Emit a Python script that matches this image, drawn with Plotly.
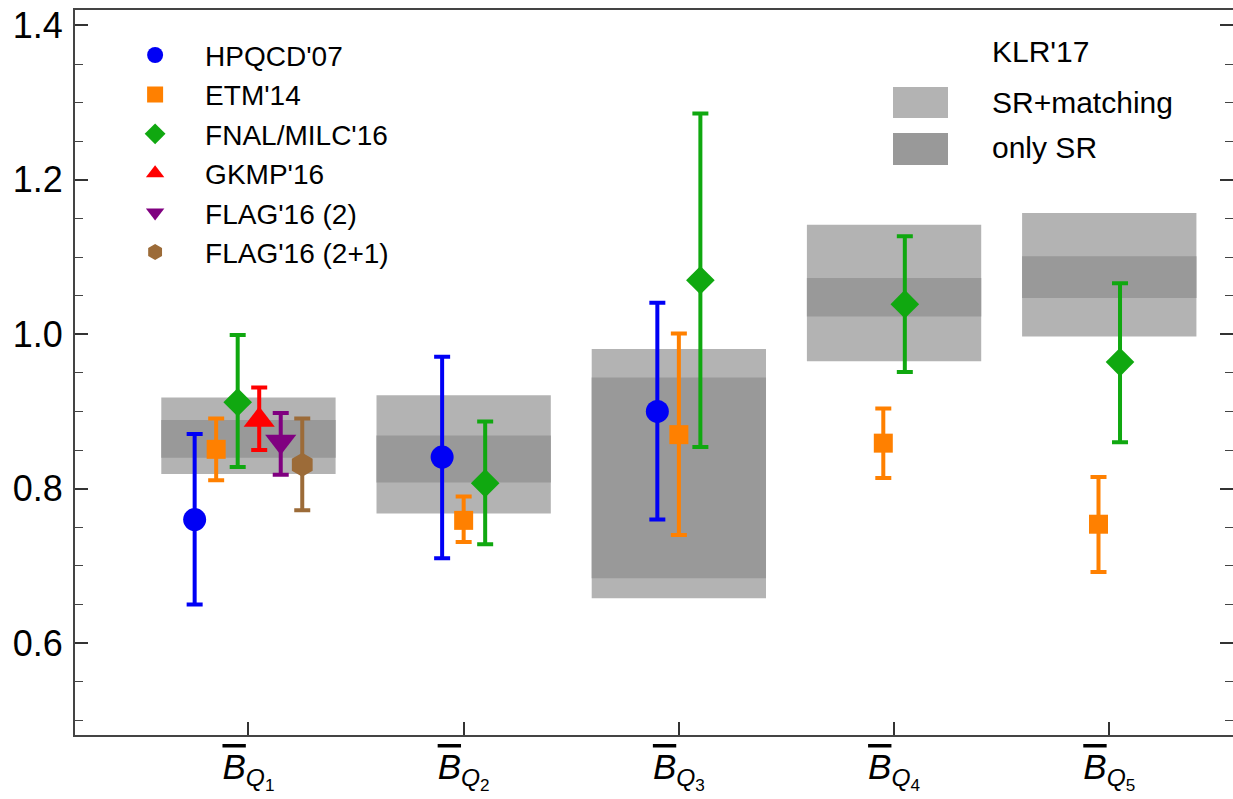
import plotly.graph_objects as go

# ---------------- data ----------------
categories = ["Q1", "Q2", "Q3", "Q4", "Q5"]
cat_sub = ["1", "2", "3", "4", "5"]

series_names = ["HPQCD'07", "ETM'14", "FNAL/MILC'16", "GKMP'16", "FLAG'16 (2)", "FLAG'16 (2+1)"]

hpqcd_val = [0.760, 0.841, 0.900, None, None]
hpqcd_up = [0.111, 0.130, 0.141, None, None]
hpqcd_dn = [0.110, 0.131, 0.140, None, None]

etm_val = [0.851, 0.759, 0.870, 0.859, 0.754]
etm_up = [0.040, 0.031, 0.131, 0.045, 0.061]
etm_dn = [0.040, 0.028, 0.130, 0.045, 0.062]

fnal_val = [0.912, 0.807, 1.070, 1.039, 0.964]
fnal_up = [0.087, 0.080, 0.216, 0.088, 0.102]
fnal_dn = [0.084, 0.079, 0.216, 0.088, 0.104]

gkmp_val = [0.889, None, None, None, None]
gkmp_up = [0.042, None, None, None, None]
gkmp_dn = [0.039, None, None, None, None]

flag2_val = [0.861, None, None, None, None]
flag2_up = [0.037, None, None, None, None]
flag2_dn = [0.043, None, None, None, None]

flag21_val = [0.831, None, None, None, None]
flag21_up = [0.060, None, None, None, None]
flag21_dn = [0.059, None, None, None, None]

# KLR'17 bands
klr_full_lo = [0.819, 0.768, 0.658, 0.965, 0.997]
klr_full_hi = [0.918, 0.921, 0.981, 1.142, 1.157]
klr_sr_lo = [0.840, 0.808, 0.684, 1.023, 1.047]
klr_sr_hi = [0.889, 0.869, 0.944, 1.073, 1.101]

y_tick_vals = [0.6, 0.8, 1.0, 1.2, 1.4]
y_tick_text = ["0.6", "0.8", "1.0", "1.2", "1.4"]

# ---------------- styles ----------------
FONT = "Liberation Sans, Arial, Helvetica, sans-serif"
colors = ["#0000f5", "#ff8000", "#10a810", "#ff0000", "#800080", "#9c6b38"]
symbols = ["circle", "square", "diamond", "triangle-up", "triangle-down", "hexagon"]
sizes = [23, 19, 22, 27, 27, 24]
LIGHT = "#b3b3b3"
DARK = "#999999"

series = [
    (hpqcd_val, hpqcd_up, hpqcd_dn),
    (etm_val, etm_up, etm_dn),
    (fnal_val, fnal_up, fnal_dn),
    (gkmp_val, gkmp_up, gkmp_dn),
    (flag2_val, flag2_up, flag2_dn),
    (flag21_val, flag21_up, flag21_dn),
]

# horizontal offsets: the series present in each category are spread 0.1 apart
step = 0.1
xpos = [[None] * len(categories) for _ in series]
for c in range(len(categories)):
    present = [s for s, (v, _, _) in enumerate(series) if v[c] is not None]
    n = len(present)
    for k, s in enumerate(present):
        xpos[s][c] = (c + 1) + (k - (n - 1) / 2) * step

cat_x = list(range(1, len(categories) + 1))

fig = go.Figure()

# bands (bars with base)
fig.add_trace(go.Bar(
    x=cat_x, base=klr_full_lo,
    y=[h - l for h, l in zip(klr_full_hi, klr_full_lo)],
    width=0.81, marker=dict(color=LIGHT, line=dict(width=0)),
    showlegend=False, hoverinfo="skip"))
fig.add_trace(go.Bar(
    x=cat_x, base=klr_sr_lo,
    y=[h - l for h, l in zip(klr_sr_hi, klr_sr_lo)],
    width=0.81, marker=dict(color=DARK, line=dict(width=0)),
    showlegend=False, hoverinfo="skip"))

for s, (vals, up, dn) in enumerate(series):
    xs = [x for x, v in zip(xpos[s], vals) if v is not None]
    ys = [v for v in vals if v is not None]
    ups = [u for u, v in zip(up, vals) if v is not None]
    dns = [d for d, v in zip(dn, vals) if v is not None]
    fig.add_trace(go.Scatter(
        x=xs, y=ys, mode="markers", name=series_names[s],
        marker=dict(symbol=symbols[s], size=sizes[s], color=colors[s], line=dict(width=0)),
        error_y=dict(type="data", symmetric=False, array=ups, arrayminus=dns,
                     color=colors[s], thickness=4, width=8),
    ))

# invisible trace for right-side tick axis
fig.add_trace(go.Scatter(x=[None], y=[None], yaxis="y2", showlegend=False, hoverinfo="skip"))

tick_text = [
    f'<span style="text-decoration:overline"><i>B</i></span><sub><i>Q</i><sub>{n}</sub></sub>'
    for n in cat_sub
]

Y_RANGE = [0.481, 1.42]

fig.update_layout(
    width=1233, height=799,
    margin=dict(l=75, r=0, t=10, b=64),
    paper_bgcolor="white", plot_bgcolor="white",
    barmode="overlay",
    font=dict(family=FONT, color="black"),
    showlegend=True,
    legend=dict(
        x=0.026, y=0.972, xanchor="left", yanchor="top",
        font=dict(size=28, family=FONT, color="black"),
        itemwidth=90, tracegroupgap=0, bgcolor="rgba(0,0,0,0)",
        itemsizing="trace",
    ),
    xaxis=dict(
        range=[0.194, 5.575], tickmode="array", tickvals=cat_x, ticktext=tick_text,
        ticks="inside", ticklen=13, tickwidth=1.5, tickcolor="#333",
        showline=True, linecolor="#444", linewidth=2, mirror=True,
        showgrid=False, zeroline=False,
        tickfont=dict(size=35, family=FONT, color="black"),
    ),
    yaxis=dict(
        range=Y_RANGE, tickmode="array", tickvals=y_tick_vals, ticktext=y_tick_text,
        ticks="inside", ticklen=13, tickwidth=1.5, tickcolor="#333",
        minor=dict(dtick=0.05, tick0=0, ticks="inside", ticklen=8, tickwidth=1.2, tickcolor="#444"),
        showline=True, linecolor="#444", linewidth=2, mirror=False,
        showgrid=False, zeroline=False,
        tickfont=dict(size=36, family=FONT, color="black"),
        ticklabelstandoff=3,
    ),
    yaxis2=dict(
        overlaying="y", side="right", anchor="x", range=Y_RANGE,
        tickmode="array", tickvals=y_tick_vals, showticklabels=False,
        ticks="inside", ticklen=13, tickwidth=1.5, tickcolor="#333",
        minor=dict(dtick=0.05, tick0=0, ticks="inside", ticklen=8, tickwidth=1.2, tickcolor="#444"),
        showline=False, showgrid=False, zeroline=False,
    ),
)

# KLR'17 legend (manual)
fig.add_annotation(xref="paper", yref="paper", x=(990 - 75) / 1158, y=1 - (52 - 10) / 725,
                   text="KLR'17", showarrow=False, xanchor="left", yanchor="middle",
                   font=dict(size=30, family=FONT, color="black"))
fig.add_annotation(xref="paper", yref="paper", x=(990 - 75) / 1158, y=1 - (102 - 10) / 725,
                   text="SR+matching", showarrow=False, xanchor="left", yanchor="middle",
                   font=dict(size=30, family=FONT, color="black"))
fig.add_annotation(xref="paper", yref="paper", x=(990 - 75) / 1158, y=1 - (148 - 10) / 725,
                   text="only SR", showarrow=False, xanchor="left", yanchor="middle",
                   font=dict(size=30, family=FONT, color="black"))
for (y0, y1, col) in [(87, 118, LIGHT), (133, 165, DARK)]:
    fig.add_shape(type="rect", xref="paper", yref="paper",
                  x0=(893 - 75) / 1158, x1=(948 - 75) / 1158,
                  y0=1 - (y1 - 10) / 725, y1=1 - (y0 - 10) / 725,
                  fillcolor=col, line=dict(width=0))

fig.write_html("out.html")
